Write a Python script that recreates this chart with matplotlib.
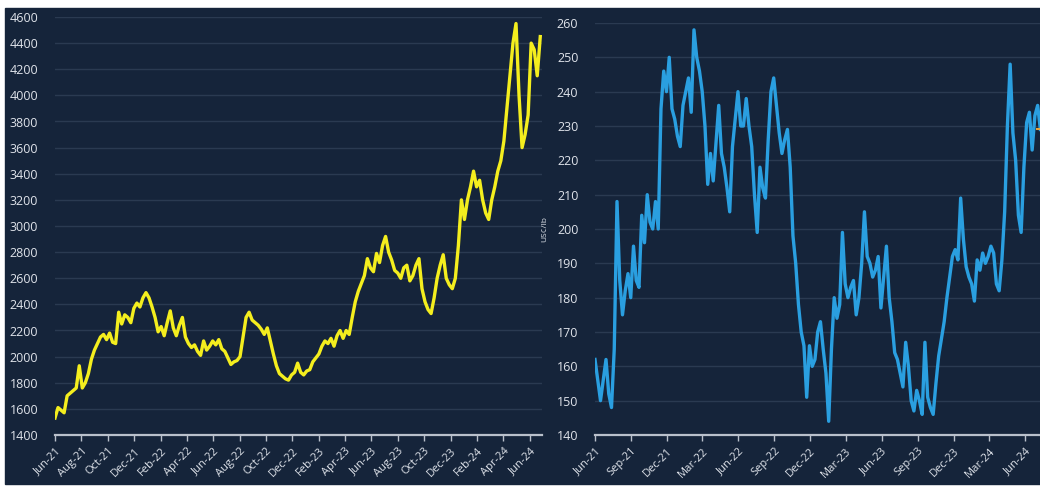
import pandas as pd
import matplotlib
matplotlib.use("Agg")
import matplotlib.pyplot as plt
import matplotlib.dates as mdates
from matplotlib.patches import Rectangle

# weekly prices, starting 1 June 2021
left_start = "2021-06-01"
robusta = [1530, 1610, 1590, 1570, 1700, 1720, 1740, 1760, 1930, 1760,
           1800, 1870, 1980, 2050, 2100, 2150, 2170, 2130, 2180, 2110,
           2100, 2340, 2250, 2320, 2300, 2260, 2370, 2410, 2380, 2450,
           2490, 2450, 2380, 2300, 2190, 2230, 2160, 2260, 2350, 2220,
           2160, 2240, 2300, 2150, 2100, 2070, 2090, 2040, 2010, 2120,
           2050, 2080, 2120, 2090, 2130, 2060, 2040, 1990, 1940, 1960,
           1970, 2000, 2150, 2300, 2340, 2280, 2260, 2240, 2210, 2170,
           2220, 2120, 2020, 1930, 1870, 1850, 1830, 1820, 1860, 1880,
           1950, 1880, 1860, 1890, 1900, 1960, 1990, 2020, 2080, 2120,
           2100, 2140, 2080, 2160, 2200, 2140, 2200, 2170, 2300, 2420,
           2500, 2560, 2620, 2750, 2680, 2650, 2790, 2720, 2850, 2920,
           2800, 2740, 2660, 2640, 2600, 2680, 2700, 2580, 2620, 2700,
           2750, 2520, 2420, 2360, 2330, 2450, 2600, 2700, 2780, 2600,
           2550, 2520, 2600, 2850, 3200, 3050, 3200, 3300, 3420, 3300,
           3350, 3200, 3100, 3050, 3200, 3300, 3420, 3500, 3650, 3900,
           4150, 4400, 4550, 4000, 3600, 3700, 3850, 4400, 4350, 4150,
           4450]

right_start = "2021-06-01"
arabica = [162, 156, 150, 156, 162, 152, 148, 165, 208, 185,
           175, 182, 187, 180, 195, 185, 183, 204, 196, 210,
           202, 200, 208, 200, 235, 246, 240, 250, 235, 232,
           227, 224, 236, 240, 244, 234, 258, 250, 246, 240,
           230, 213, 222, 214, 225, 236, 222, 218, 212, 205,
           224, 232, 240, 230, 230, 238, 230, 224, 210, 199,
           218, 212, 209, 226, 240, 244, 236, 228, 222, 226,
           229, 218, 198, 190, 178, 170, 166, 151, 166, 160,
           162, 170, 173, 165, 158, 144, 165, 180, 174, 178,
           199, 184, 180, 183, 185, 175, 180, 190, 205, 192,
           190, 186, 188, 192, 177, 186, 195, 180, 173, 164,
           162, 158, 154, 167, 160, 150, 147, 153, 150, 146,
           167, 151, 148, 146, 155, 163, 168, 173, 180, 186,
           192, 194, 191, 209, 197, 189, 186, 184, 179, 191,
           188, 193, 190, 192, 195, 193, 184, 182, 191, 205,
           230, 248, 228, 220, 204, 199, 218, 231, 234, 223,
           233, 236, 229]

left_ticks = pd.date_range("2021-06-01", "2024-06-01", freq="2MS")
right_ticks = pd.date_range("2021-06-01", "2024-06-01", freq="3MS")

left_dates = pd.date_range(left_start, periods=len(robusta), freq="7D")
right_dates = pd.date_range(right_start, periods=len(arabica), freq="7D")

navy = "#15243a"
grid_c = "#2a3a51"
text_c = "#dfe3ea"
axis_c = "#b9c0cb"

plt.rcParams["font.family"] = ["Open Sans", "DejaVu Sans"]

fig = plt.figure(figsize=(10.4, 4.86), dpi=100)
fig.patch.set_facecolor("white")
fig.add_artist(Rectangle((5 / 1040, 2 / 486), 1, 476 / 486,
                         transform=fig.transFigure, color=navy, zorder=0))


def style(ax, ticks, fmt):
    ax.set_facecolor(navy)
    for s in ["top", "right", "left"]:
        ax.spines[s].set_visible(False)
    ax.spines["bottom"].set_color(axis_c)
    ax.spines["bottom"].set_linewidth(1.6)
    ax.grid(axis="y", color=grid_c, linewidth=1)
    ax.set_axisbelow(True)
    ax.set_xticks(ticks)
    ax.xaxis.set_major_formatter(mdates.DateFormatter(fmt))
    ax.tick_params(axis="x", colors=axis_c, length=4, width=1, labelsize=8,
                   labelcolor=text_c)
    ax.tick_params(axis="y", length=0, labelsize=9, labelcolor=text_c, pad=12)
    for lab in ax.get_xticklabels():
        lab.set_rotation(45)
        lab.set_ha("right")
        lab.set_rotation_mode("anchor")


# left: robusta
ax1 = fig.add_axes([55 / 1040, 51 / 486, 487 / 1040, 418 / 486])
ax1.plot(left_dates, robusta, color="#f4ee1e", linewidth=2.4)
ax1.set_ylim(1400, 4600)
ax1.set_yticks(range(1400, 4601, 200))
ax1.set_xlim(pd.Timestamp("2021-06-01"), pd.Timestamp("2024-06-29"))
style(ax1, left_ticks, "%b-%y")

# right: arabica
ax2 = fig.add_axes([595 / 1040, 51 / 486, 445 / 1040, 412 / 486])
ax2.plot(right_dates, arabica, color="#2a9fe0", linewidth=2.4)
ax2.plot(right_dates[-1:], arabica[-1:], marker="_", color="#e8a33c",
         markersize=6, markeredgewidth=1.5)
ax2.set_ylim(140, 260)
ax2.set_yticks(range(140, 261, 10))
ax2.set_xlim(pd.Timestamp("2021-06-01"), pd.Timestamp("2024-07-08"))
style(ax2, right_ticks, "%b-%y")
ax2.set_ylabel("US¢/lb", color=text_c, fontsize=6, labelpad=6)

fig.savefig("out.png", dpi=100, facecolor=fig.get_facecolor())
